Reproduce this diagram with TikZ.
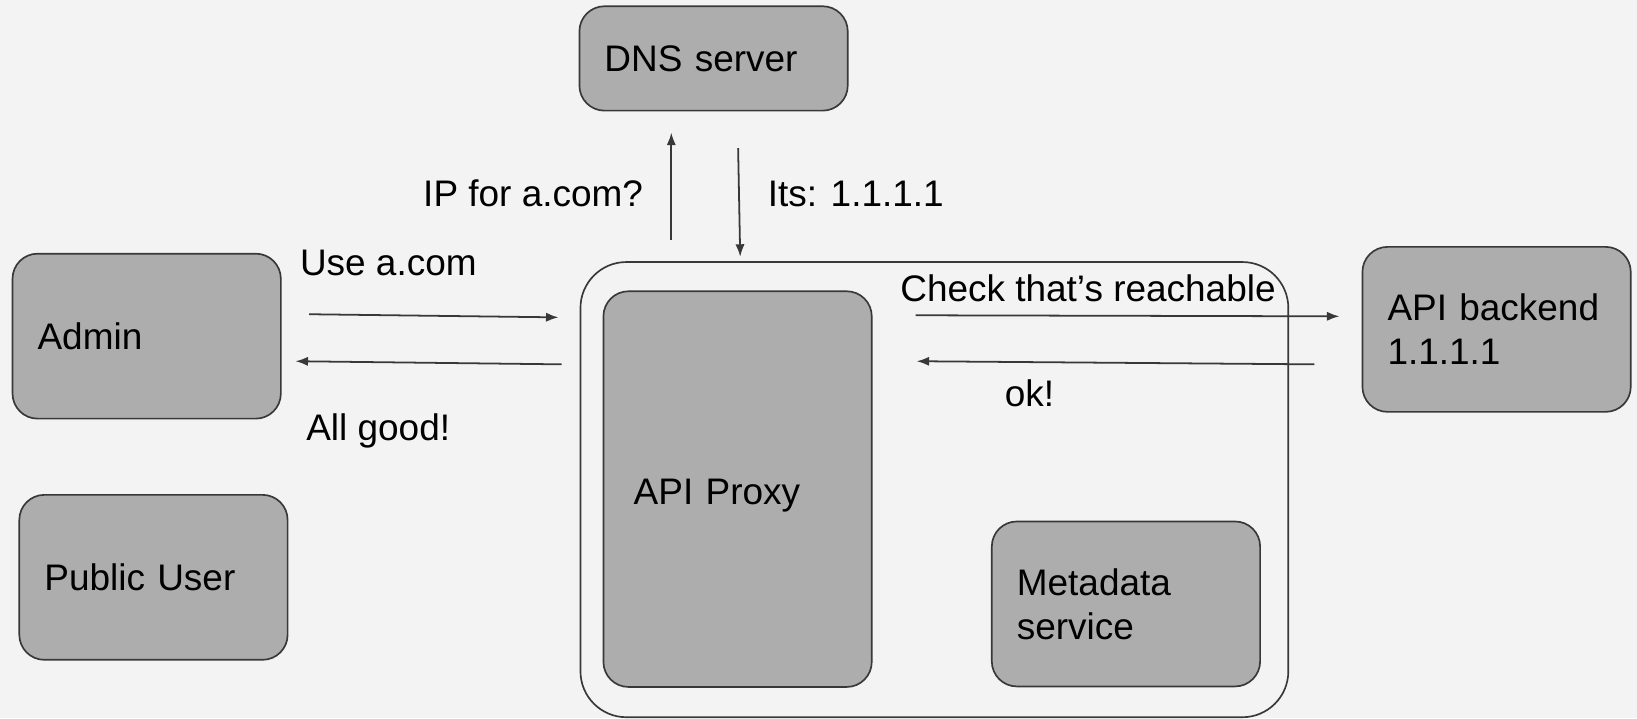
\documentclass[tikz,border=0pt]{standalone}
\usepackage{fontspec}
\setmainfont{Liberation Sans}
\usetikzlibrary{arrows.meta}
\tikzset{>=latex}
\definecolor{canvas}{HTML}{F3F3F3}
\definecolor{boxfill}{HTML}{ADADAD}
\definecolor{edge}{HTML}{383838}
\newcommand{\msgfont}{\fontsize{17.7}{21}\selectfont}
\tikzset{
    service/.style={draw=edge, line width=0.8pt, fill=boxfill, rounded corners=12pt,
        align=left, text width=104.5pt, inner xsep=12pt, inner ysep=0pt,
        minimum height=79pt, font=\msgfont},
    msg/.style={anchor=base west, inner sep=0pt, font=\msgfont},
    call/.style={draw=edge, line width=0.85pt, -{Latex[length=6pt, width=4.4pt]}}
}

\begin{document}
\begin{tikzpicture}[x=0.5pt, y=-0.5pt]
    \useasboundingbox[fill=canvas] (0, 0) rectangle (1568, 688);

    % host that runs the proxy
    \node[draw=edge, line width=0.8pt, rounded corners=22pt,
          minimum width=339pt, minimum height=218pt] (host) at (895, 469) {};

    \node[service, minimum height=50pt] (dns) at (683.5, 56) {DNS server};
    \node[service] (admin) at (140.5, 322) {Admin};
    \node[service] (public) at (147, 553) {Public User};
    \node[service, minimum height=189.5pt, inner xsep=14.5pt, text width=99.5pt,
          text height=18pt] (proxy) at (706.5, 468.5) {API Proxy};
    \node[service] (meta) at (1078.5, 578.5) {Metadata\\service};
    \node[service] (backend) at (1433.5, 315.5) {API backend\\1.1.1.1};

    % message texts
    \node[msg] (ask) at (405, 198) {IP for a.com?};
    \node[msg] (answer) at (735, 198) {Its: 1.1.1.1};
    \node[msg] (use) at (287, 264) {Use a.com};
    \node[msg] (good) at (293, 422) {All good!};
    \node[msg] (check) at (862, 289) {Check that’s reachable};
    \node[msg] (ok) at (962, 389) {ok!};

    % arrow end points
    \coordinate (ask0) at (643, 230);
    \coordinate (ask1) at (643, 127);
    \coordinate (answer0) at (707, 142);
    \coordinate (answer1) at (709, 246);
    \coordinate (use0) at (296, 301);
    \coordinate (use1) at (535, 304);
    \coordinate (good0) at (538, 349);
    \coordinate (good1) at (283, 346);
    \coordinate (check0) at (877, 302);
    \coordinate (check1) at (1283, 303);
    \coordinate (ok0) at (1259, 349);
    \coordinate (ok1) at (878, 346);

    \foreach \m in {ask, answer, use, good, check, ok} {
        \draw[call] (\m0) -- (\m1);
    }
\end{tikzpicture}
\end{document}
